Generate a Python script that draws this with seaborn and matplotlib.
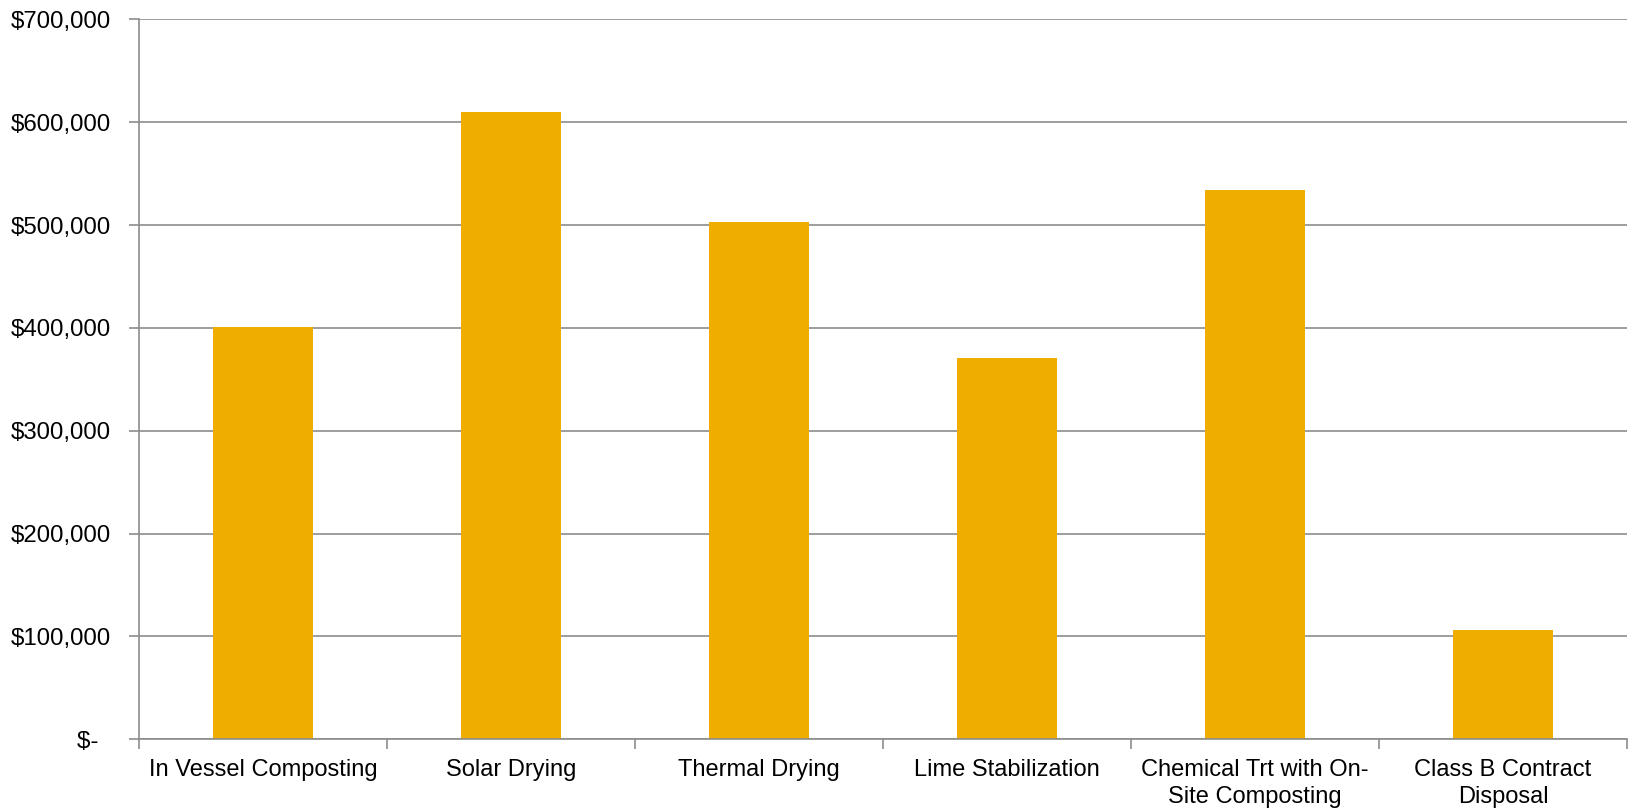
import numpy as np
import pandas as pd
import seaborn as sns
import matplotlib
matplotlib.use("Agg")
import matplotlib.pyplot as plt
from matplotlib.ticker import FixedLocator, FuncFormatter

categories = ["In Vessel Composting", "Solar Drying", "Thermal Drying",
              "Lime Stabilization", "Chemical Trt with On-\nSite Composting",
              "Class B Contract\nDisposal"]
costs = [400500, 610000, 503000, 371000, 534000, 106000]
y_ticks = [0, 100000, 200000, 300000, 400000, 500000, 600000, 700000]

sns.set_style("white")
plt.rcParams["font.family"] = ["Liberation Sans", "DejaVu Sans"]
plt.rcParams["text.color"] = "black"
plt.rcParams["xtick.labelcolor"] = "black"
plt.rcParams["ytick.labelcolor"] = "black"

df = pd.DataFrame({"option": categories, "cost": costs})

fig = plt.figure(figsize=(16.28, 8.08), dpi=100)
ax = fig.add_axes([0.0854, 0.085, 0.914, 0.891])

sns.barplot(data=df, x="option", y="cost", color="#EFAD00", width=0.4,
            saturation=1, linewidth=0, ax=ax)

ax.set_ylim(0, 700000)
ax.set_xlim(-0.5, len(categories) - 0.5)
ax.set_yticks(y_ticks)
ax.yaxis.set_major_formatter(FuncFormatter(
    lambda v, p: "$-  " if v == 0 else f"${v:,.0f}"))
ax.yaxis.grid(True, color="#8c8c8c", linewidth=1.2)
ax.set_axisbelow(True)

ax.xaxis.set_minor_locator(FixedLocator(np.arange(-0.5, len(categories), 1)))
ax.tick_params(axis="x", which="major", length=0, pad=14, labelsize=17)
ax.tick_params(axis="x", which="minor", length=7, width=1.2, color="#8c8c8c",
               direction="out", bottom=True)
ax.tick_params(axis="y", length=7, width=1.2, color="#8c8c8c", left=True,
               direction="out", pad=13, labelsize=17.3)
for lbl in ax.get_xticklabels():
    lbl.set_linespacing(1.3)

for side in ["top", "right"]:
    ax.spines[side].set_visible(False)
for side in ["left", "bottom"]:
    ax.spines[side].set_color("#8c8c8c")
    ax.spines[side].set_linewidth(1.2)

ax.set_xlabel("")
ax.set_ylabel("")

fig.savefig("out.png", dpi=100)
